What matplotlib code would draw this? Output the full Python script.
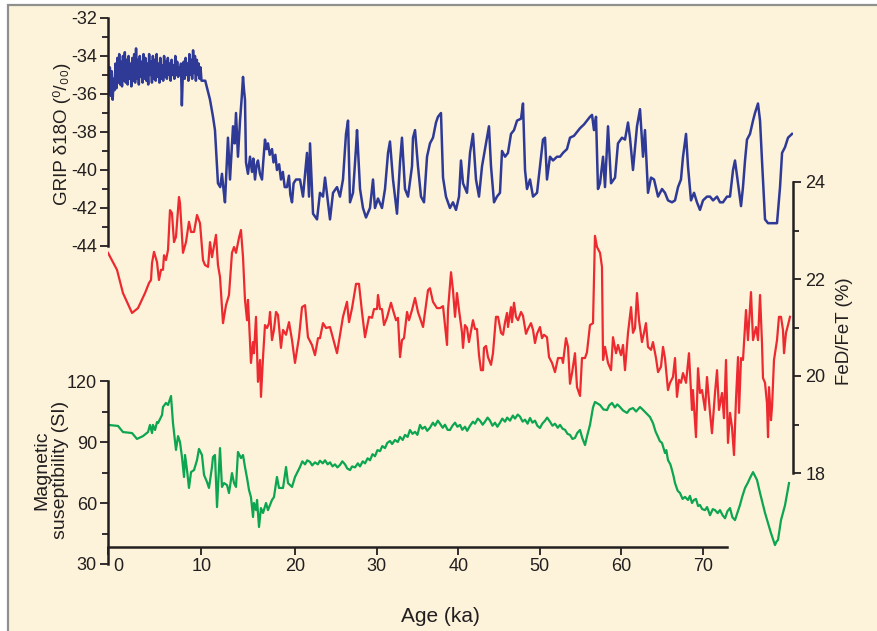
import numpy as np
import matplotlib
matplotlib.use("Agg")
import matplotlib.pyplot as plt
from matplotlib.patches import Rectangle
import matplotlib.transforms as mtransforms

# ---------------- data ----------------
# GRIP delta18O (permil) vs age (ka): Holocene part (dense) and glacial part
holo_age = [0.0, 0.1, 0.2, 0.3, 0.4, 0.5, 0.6, 0.7, 0.8, 0.9, 1.0, 1.1, 1.2, 1.3, 1.4, 1.5, 1.6, 1.7,
            1.8, 1.9, 2.0, 2.1, 2.2, 2.3, 2.4, 2.5, 2.6, 2.7, 2.8, 2.9, 3.0, 3.1, 3.2, 3.3, 3.4, 3.5,
            3.6, 3.7, 3.8, 3.9, 4.0, 4.1, 4.2, 4.3, 4.4, 4.5, 4.6, 4.7, 4.8, 4.9, 5.0, 5.1, 5.2, 5.3,
            5.4, 5.5, 5.6, 5.7, 5.8, 5.9, 6.0, 6.1, 6.2, 6.3, 6.4, 6.5, 6.6, 6.7, 6.8, 6.9, 7.0, 7.1,
            7.2, 7.3, 7.4, 7.5, 7.6, 7.7, 7.8, 7.9, 8.0, 8.1, 8.2, 8.3, 8.4, 8.5, 8.6, 8.7, 8.8, 8.9,
            9.0, 9.1, 9.2, 9.3, 9.4, 9.5, 9.6, 9.7, 9.8, 9.9, 10.0]
holo_d18o = [-34.3, -35.9, -34.6, -36.1, -34.8, -36.3, -35.2, -35.8, -34.4, -35.7,
             -34.1, -35.4, -33.9, -35.5, -34.3, -35.6, -34.0, -35.3, -33.8, -35.4,
             -34.2, -35.5, -34.0, -35.2, -34.4, -35.6, -34.1, -35.3, -33.9, -35.4,
             -33.6, -35.2, -34.2, -35.5, -34.0, -35.1, -34.3, -35.4, -33.9, -35.2,
             -34.1, -35.3, -34.4, -35.5, -33.9, -35.0, -34.3, -35.4, -34.0, -35.2,
             -34.2, -35.3, -33.9, -35.1, -34.4, -35.4, -34.1, -35.2, -34.5, -35.3,
             -34.0, -35.1, -34.3, -35.2, -34.1, -35.0, -34.4, -35.3, -34.2, -35.0,
             -34.5, -35.2, -34.0, -35.0, -34.3, -35.1, -34.6, -35.0, -34.4, -36.6,
             -35.0, -34.3, -35.2, -34.1, -35.0, -34.4, -35.3, -33.9, -35.0, -34.2,
             -35.2, -33.7, -34.9, -34.0, -35.3, -34.2, -35.0, -34.4, -35.2, -34.6,
             -35.3]
glac_age = [10.4, 10.91, 11.23, 11.44, 11.66, 11.76, 12.0, 12.19, 12.35, 12.51,
            12.83, 13.05, 13.37, 13.55, 13.69, 13.9, 14.12, 14.3, 14.44, 14.55, 14.65, 14.76, 14.97,
            15.19, 15.4, 15.55, 15.72, 15.9, 16.04, 16.25, 16.47, 16.6, 16.79, 16.95, 17.11, 17.3,
            17.54, 17.7, 17.9, 18.07, 18.3, 18.5, 18.7, 18.9, 19.14, 19.35, 19.5, 19.68, 19.85, 20.12,
            20.61, 20.98, 21.47, 21.72, 21.84, 22.21, 22.7, 23.06, 23.43, 23.68, 24.29, 24.66, 25.15,
            25.51, 25.88, 26.25, 26.5, 26.74, 27.11, 27.48, 27.6, 27.97, 28.33, 28.7, 29.19, 29.56,
            29.8, 30.17, 30.66, 31.03, 31.4, 31.64, 32.01, 32.5, 32.87, 33.11, 33.48, 33.85, 34.34,
            34.46, 34.71, 35.07, 35.44, 35.81, 36.18, 36.54, 36.91, 37.28, 37.52, 37.89, 38.14, 38.5,
            38.99, 39.36, 39.73, 40.1, 40.34, 40.59, 41.08, 41.45, 41.81, 42.18, 42.55, 42.92, 43.41,
            43.77, 44.02, 44.39, 44.75, 45.12, 45.37, 45.74, 46.1, 46.47, 46.84, 47.21, 47.7, 47.94,
            48.19, 48.43, 48.8, 49.17, 49.66, 50.02, 50.39, 50.64, 50.88, 51.25, 51.62, 52.11, 52.48,
            52.84, 53.33, 53.7, 54.19, 54.56, 54.93, 55.42, 55.78, 56.15, 56.4, 56.64, 56.89, 57.01,
            57.13, 57.38, 57.75, 57.99, 58.36, 58.73, 59.22, 59.58, 60.07, 60.44, 60.81, 61.05, 61.42,
            61.91, 62.28, 62.65, 62.89, 63.26, 63.63, 64.0, 64.49, 64.98, 65.34, 65.71, 66.2, 66.57,
            66.94, 67.3, 67.55, 67.92, 68.16, 68.53, 68.9, 69.26, 69.63, 70.0, 70.49, 70.86, 71.23,
            71.72, 72.08, 72.45, 72.94, 73.31, 73.68, 73.92, 74.29, 74.66, 74.9, 75.15, 75.39, 75.76,
            76.13, 76.37, 76.74, 76.99, 77.23, 77.6, 77.97, 78.58, 79.07, 79.44, 79.69, 80.05, 80.42,
            80.91]
glac_d18o = [-35.3, -36.3, -37.2, -37.9, -39.8,
             -40.7, -40.9, -40.2, -41.0, -41.7, -38.3, -40.5, -37.7, -38.6, -37.0, -39.3, -37.4, -36.2,
             -35.1, -35.8, -36.3, -39.6, -40.2, -39.3, -40.1, -39.4, -40.5, -39.7, -39.5, -40.2, -40.5,
             -39.6, -38.4, -38.9, -38.6, -39.2, -38.9, -39.6, -39.2, -40.0, -39.7, -40.5, -40.1, -40.9,
             -40.9, -40.3, -41.3, -41.7, -40.7, -40.5, -40.5, -41.4, -39.1, -41.4, -38.6, -42.3, -42.6,
             -41.2, -41.4, -40.4, -42.6, -41.2, -40.9, -41.4, -40.5, -38.1, -37.4, -41.7, -41.2, -38.8,
             -37.9, -41.0, -42.0, -42.5, -42.0, -40.5, -42.0, -41.5, -42.0, -41.0, -39.1, -38.5, -40.5,
             -42.3, -39.6, -38.3, -41.0, -41.4, -39.8, -38.3, -37.9, -39.8, -41.4, -41.7, -39.3, -38.6,
             -38.3, -37.5, -37.2, -37.0, -40.4, -41.4, -42.0, -41.7, -42.1, -41.4, -39.5, -40.7, -41.2,
             -39.1, -38.1, -40.5, -41.4, -39.8, -38.6, -37.7, -39.8, -41.7, -41.4, -41.2, -39.0, -39.3,
             -39.1, -38.1, -37.9, -37.4, -37.3, -36.5, -40.0, -41.0, -40.5, -41.4, -41.2, -39.8, -38.4,
             -38.3, -40.5, -39.3, -39.5, -39.3, -39.3, -39.1, -38.9, -38.3, -38.2, -38.0, -37.8, -37.6,
             -37.4, -37.2, -37.1, -37.9, -37.2, -39.1, -41.0, -40.7, -39.3, -40.9, -37.7, -40.7, -40.4,
             -38.6, -38.3, -38.4, -37.5, -38.3, -40.0, -37.7, -36.8, -39.3, -37.9, -41.2, -40.4, -40.5,
             -41.4, -41.0, -41.2, -41.6, -41.7, -41.6, -40.9, -40.5, -39.3, -38.1, -39.8, -41.6, -41.2,
             -41.7, -42.1, -41.6, -41.4, -41.4, -41.6, -41.4, -41.7, -41.7, -41.4, -41.4, -40.0, -39.5,
             -40.7, -41.9, -40.9, -39.5, -38.4, -38.1, -37.4, -37.0, -36.5, -37.4, -39.5, -42.6, -42.8,
             -42.8, -42.8, -40.9, -39.1, -38.8, -38.3, -38.1]

# FeD/FeT (%) vs age (ka)
fed_age = [0.0, 0.96, 1.6, 2.57, 3.21, 3.96, 4.39, 4.6, 4.71, 4.92, 5.24, 5.45, 5.67, 5.88, 5.99, 6.2,
           6.42, 6.63, 6.84, 7.06, 7.27, 7.59, 7.7, 8.02, 8.34, 8.66, 8.88, 9.2, 9.52, 9.84, 10.16,
           10.37, 10.7, 10.91, 11.12, 11.55, 11.76, 11.98, 12.3, 12.62, 12.94, 13.26, 13.48, 13.69,
           14.01, 14.22, 14.44, 14.65, 14.87, 14.97, 15.08, 15.29, 15.51, 15.61, 15.83, 16.04, 16.26,
           16.36, 16.58, 16.79, 17.01, 17.22, 17.33, 17.54, 17.75, 17.97, 18.18, 18.5, 18.72, 19.04,
           19.36, 19.68, 20.0, 20.49, 20.86, 21.23, 21.59, 22.08, 22.45, 22.82, 23.06, 23.43, 23.8,
           24.29, 25.15, 25.88, 26.37, 26.62, 26.99, 27.48, 27.84, 28.21, 28.58, 29.07, 29.44, 29.68,
           30.05, 30.17, 30.42, 30.66, 30.91, 31.27, 31.76, 32.01, 32.38, 32.62, 32.87, 33.11, 33.36,
           33.73, 33.97, 34.34, 34.71, 35.07, 35.69, 36.3, 36.54, 36.91, 37.4, 37.77, 38.14, 38.38,
           38.63, 38.75, 39.12, 39.36, 39.61, 39.85, 40.1, 40.47, 40.59, 40.83, 41.08, 41.32, 41.81,
           42.06, 42.3, 42.55, 42.79, 43.04, 43.16, 43.41, 43.65, 44.02, 44.26, 44.63, 44.88, 45.25,
           45.49, 45.74, 45.98, 46.1, 46.47, 46.59, 46.84, 47.08, 47.33, 47.7, 47.94, 48.31, 48.55,
           48.92, 49.17, 49.41, 49.66, 50.02, 50.27, 50.51, 50.88, 51.13, 51.5, 51.86, 52.23, 52.72,
           52.84, 53.21, 53.46, 53.7, 53.95, 54.31, 54.56, 54.93, 55.17, 55.54, 55.78, 56.15, 56.52,
           56.76, 57.01, 57.38, 57.62, 57.75, 57.99, 58.36, 58.73, 58.97, 59.34, 59.58, 59.95, 60.2,
           60.44, 60.81, 61.18, 61.42, 61.67, 61.91, 62.16, 62.52, 62.77, 63.01, 63.26, 63.63, 63.87,
           64.24, 64.49, 64.85, 65.1, 65.34, 65.71, 65.96, 66.32, 66.57, 66.81, 67.06, 67.3, 67.55,
           67.92, 68.16, 68.28, 68.65, 68.77, 69.14, 69.39, 69.63, 69.88, 70.25, 70.49, 70.86, 71.1,
           71.47, 71.72, 71.96, 72.33, 72.57, 72.82, 73.06, 73.31, 73.55, 73.8, 74.04, 74.29, 74.41,
           74.66, 74.9, 75.27, 75.51, 75.88, 76.13, 76.5, 76.74, 76.99, 77.23, 77.35, 77.6, 77.84,
           77.97, 78.09, 78.33, 78.46, 78.7, 79.07, 79.31, 79.56, 79.8, 79.93, 80.17, 80.42, 80.66]
fed_pct = [22.54, 22.19, 21.71, 21.30, 21.40, 21.71, 21.92, 21.98, 22.33, 22.56, 22.35, 21.98, 22.19,
           22.19, 22.49, 22.39, 22.60, 23.42, 23.36, 22.76, 22.87, 23.69, 23.57, 22.54, 22.76, 23.18,
           22.97, 22.97, 23.32, 23.15, 22.39, 22.29, 22.25, 22.76, 22.45, 22.91, 22.29, 22.04, 21.09,
           21.46, 21.67, 22.54, 22.66, 22.54, 22.85, 23.01, 22.45, 21.57, 21.15, 21.57, 21.15, 20.27,
           20.70, 20.47, 21.22, 19.88, 20.33, 19.57, 20.39, 21.05, 20.99, 21.09, 21.32, 20.74, 20.95,
           21.32, 21.26, 20.58, 20.95, 20.85, 21.11, 20.74, 20.27, 20.80, 21.42, 21.46, 20.80, 20.64,
           20.43, 20.78, 20.78, 21.09, 20.99, 21.01, 20.47, 21.22, 21.53, 21.11, 21.40, 21.90, 21.90,
           21.32, 20.80, 21.22, 21.20, 21.38, 21.38, 21.67, 21.38, 21.38, 21.05, 21.20, 21.51, 21.36,
           21.15, 21.20, 20.39, 20.74, 20.78, 21.32, 21.15, 21.36, 21.61, 21.32, 21.01, 21.77, 21.81,
           21.53, 21.40, 21.40, 21.44, 21.05, 20.64, 21.36, 22.14, 21.77, 21.22, 21.71, 21.36, 20.89,
           20.58, 21.05, 20.99, 20.70, 21.15, 20.97, 20.97, 20.43, 20.12, 20.12, 20.58, 20.62, 20.39,
           20.23, 20.47, 21.22, 21.22, 20.89, 20.85, 21.11, 21.30, 21.01, 21.42, 21.11, 21.51, 21.22,
           21.15, 21.32, 21.24, 20.87, 20.97, 21.09, 20.95, 20.68, 20.87, 21.01, 20.78, 20.85, 20.80,
           20.39, 20.27, 20.08, 20.37, 20.37, 20.27, 20.78, 20.60, 19.84, 20.06, 20.47, 19.77, 19.59,
           20.37, 20.37, 20.49, 21.05, 21.09, 22.89, 22.66, 22.54, 22.25, 20.33, 20.60, 20.27, 20.12,
           20.80, 20.47, 20.64, 20.43, 20.64, 20.12, 20.89, 21.42, 20.89, 20.99, 21.71, 21.15, 20.70,
           20.89, 21.09, 20.60, 20.54, 20.70, 20.37, 20.08, 20.19, 20.60, 20.37, 19.71, 19.86, 19.98,
           20.37, 19.57, 19.92, 19.86, 20.06, 19.86, 20.27, 20.47, 19.30, 19.71, 18.74, 20.16, 19.65,
           19.71, 19.30, 19.98, 19.24, 18.82, 19.65, 20.12, 19.30, 19.65, 19.13, 20.33, 18.62, 19.24,
           18.95, 18.37, 19.51, 20.39, 19.24, 20.37, 20.33, 21.36, 20.74, 21.73, 20.74, 21.01, 20.74,
           21.67, 20.68, 19.96, 19.86, 19.44, 18.74, 19.77, 19.09, 19.36, 20.33, 20.74, 21.22, 21.22,
           20.95, 20.47, 20.89, 21.05, 21.22]

# Magnetic susceptibility (SI) vs age (ka)
ms_age = [0.0, 1.07, 1.6, 2.57, 3.1, 3.74, 4.28, 4.49, 4.71, 4.81, 5.03, 5.24, 5.35, 5.78, 5.88, 6.2,
          6.42, 6.74, 6.95, 7.06, 7.27, 7.49, 7.7, 7.91, 8.13, 8.24, 8.45, 8.66, 8.88, 9.2, 9.52, 9.73,
          10.05, 10.27, 10.59, 10.8, 11.12, 11.23, 11.44, 11.66, 11.98, 12.19, 12.41, 12.73, 12.94,
          13.26, 13.48, 13.69, 13.9, 14.22, 14.44, 14.65, 14.87, 15.08, 15.29, 15.51, 15.61, 15.83,
          15.94, 16.15, 16.36, 16.58, 16.9, 17.11, 17.54, 17.75, 18.07, 18.29, 18.72, 19.04, 19.25,
          19.68, 20.0, 20.61, 20.9, 21.23, 21.5, 21.84, 22.1, 22.45, 22.8, 23.06, 23.4, 23.68, 24.0,
          24.29, 24.6, 24.9, 25.2, 25.51, 25.8, 26.13, 26.4, 26.74, 27.0, 27.35, 27.7, 27.97, 28.3,
          28.58, 28.9, 29.19, 29.5, 29.8, 30.1, 30.42, 30.7, 31.03, 31.3, 31.64, 31.9, 32.25, 32.6,
          32.87, 33.2, 33.48, 33.8, 34.09, 34.4, 34.71, 35.0, 35.32, 35.6, 35.93, 36.2, 36.54, 36.9,
          37.16, 37.5, 37.77, 38.1, 38.38, 38.7, 38.99, 39.3, 39.61, 39.9, 40.22, 40.5, 40.83, 41.1,
          41.45, 41.8, 42.06, 42.4, 42.67, 43.0, 43.28, 43.6, 43.9, 44.2, 44.51, 44.8, 45.12, 45.4,
          45.74, 46.0, 46.35, 46.7, 46.96, 47.3, 47.57, 47.9, 48.19, 48.5, 48.8, 49.1, 49.41, 49.7,
          50.02, 50.3, 50.64, 50.9, 51.25, 51.55, 51.86, 52.2, 52.48, 52.8, 53.09, 53.4, 53.7, 54.0,
          54.31, 54.6, 54.93, 55.2, 55.54, 55.8, 56.15, 56.52, 56.76, 57.38, 57.8, 58.24, 58.5,
          58.85, 59.2, 59.5, 59.83, 60.2, 60.69, 61.0, 61.42, 61.8, 62.28, 62.6, 62.89, 63.2, 63.5,
          63.87, 64.2, 64.49, 64.7, 64.98, 65.34, 65.5, 65.71, 66.0, 66.2, 66.4, 66.57, 66.9, 67.18,
          67.5, 67.79, 68.16, 68.4, 68.65, 68.9, 69.14, 69.4, 69.63, 69.9, 70.25, 70.5, 70.86, 71.2,
          71.47, 71.8, 72.08, 72.4, 72.7, 73.0, 73.31, 73.6, 73.92, 74.2, 74.53, 74.8, 75.15, 75.5,
          75.76, 76.13, 76.4, 76.62, 76.99, 77.3, 77.6, 77.97, 78.33, 78.6, 78.82, 79.0, 79.19,
          79.56, 80.05, 80.54]
ms_si = [98.4, 97.9, 94.9, 94.4, 91.5, 92.9, 94.9, 98.4, 94.4, 98.4, 95.9, 99.8, 99.3, 103.3, 107.2,
         109.2, 108.2, 112.6, 99.3, 94.9, 86.1, 92.9, 90.0, 82.6, 72.8, 83.6, 76.2, 67.4, 75.2, 76.2,
         81.1, 86.6, 83.6, 73.8, 70.3, 67.4, 77.7, 82.6, 83.6, 58.0, 87.0, 67.9, 69.8, 68.8, 64.9, 74.7,
         69.8, 67.9, 85.1, 82.1, 83.6, 77.7, 72.3, 66.4, 62.9, 53.1, 60.0, 56.5, 61.5, 48.2, 57.5,
         55.1, 60.0, 56.5, 61.5, 62.9, 72.8, 67.4, 67.4, 77.7, 69.8, 67.9, 72.8,
         77.7, 80.5, 79.0, 81.0, 80.2, 78.5, 80.0, 79.0, 80.8, 79.5, 81.0, 79.0, 80.0, 78.0, 79.0,
         77.5, 78.7, 80.5, 79.0, 77.0, 76.2, 78.0, 77.5, 79.5, 78.0, 80.5, 79.5, 82.0, 81.0, 84.0,
         83.0, 86.0, 85.5, 88.0, 87.0, 89.5, 90.5, 89.0, 91.0, 90.0, 92.5, 91.0, 93.5, 92.5, 95.9,
         94.0, 95.0, 93.5, 98.4, 96.5, 97.5, 95.5, 97.0, 99.5, 98.0, 100.5, 99.0, 97.0, 98.5, 96.0,
         95.9, 98.0, 99.5, 97.5, 98.4, 96.0, 97.5, 95.5, 98.0, 100.0, 99.0, 101.5, 100.5, 98.5,
         100.0, 102.0, 100.5, 98.0, 99.5, 97.5, 99.5, 101.5, 100.0, 102.0, 100.5, 103.0, 101.5,
         103.5, 102.5, 100.0, 101.0, 99.0, 101.8, 99.5, 100.5, 98.0, 96.9, 99.0, 100.5, 102.0,
         100.0, 98.0, 99.0, 97.0, 98.4, 96.5, 96.0, 94.0, 93.5, 91.5, 92.0, 94.5, 95.9, 92.0, 88.5,
         93.0, 98.4, 107.0, 109.7, 108.2, 106.0, 105.7, 108.0, 109.2, 107.0, 108.5, 107.2, 105.5,
         104.3, 106.0, 106.7, 105.0, 107.2, 106.0, 104.8, 103.5, 102.3, 99.3, 95.0, 92.5, 90.5,
         89.5, 84.6, 86.0, 81.1, 79.0, 76.2, 73.0, 69.8, 66.0, 64.9, 62.0, 63.0, 61.5, 63.5, 60.0,
         61.5, 62.0, 58.5, 59.0, 57.0, 56.5, 58.0, 54.0, 57.0, 56.5, 55.0, 56.5, 54.0, 52.5, 56.0,
         57.5, 53.0, 51.6, 55.0, 59.0, 63.0, 67.4, 70.0, 72.3, 75.2, 73.0, 71.3, 64.9, 60.0, 55.1,
         50.1, 45.2, 42.0, 39.3, 41.0, 41.8, 51.6, 58.9, 69.8]

age_ticks = [0, 10, 20, 30, 40, 50, 60, 70]
grip_ticks = [-44, -42, -40, -38, -36, -34, -32]
fed_ticks = [18, 20, 22, 24]
ms_ticks = [30, 60, 90, 120]

# ---------------- styling ----------------
W, H = 878, 631
BG = "#fdf3da"
INK = "#231f20"
BLUE = "#2e3a96"
RED = "#ec2a30"
GREEN = "#0ca550"
FONT = ["Liberation Sans", "DejaVu Sans"]

plt.rcParams["font.family"] = FONT
plt.rcParams["axes.unicode_minus"] = False

fig = plt.figure(figsize=(W / 100, H / 100), dpi=100)
fig.patch.set_facecolor("white")
fig.patches.append(Rectangle((8 / W, -0.05), 1.2, 1 - 5 / H + 0.05, transform=fig.transFigure,
                             facecolor=BG, edgecolor="#8f8f8f", lw=1.6, zorder=-10))


def box(l, r, t, b):
    return [l / W, (H - b) / H, (r - l) / W, (b - t) / H]


# age axis: 0-20 ka drawn wider than 20-80 ka, as in the original figure
KX = [-200.0, 0.0, 20.0, 400.0]
KP = [-1870.0, 0.0, 187.0, 187.0 + 380 * 8.16]


def fwd(x):
    return np.interp(x, KX, KP)


def inv(p):
    return np.interp(p, KP, KX)


XMAX = float(inv(685.0))

L, R, T, B = 108, 793, 18, 564
axB = fig.add_axes(box(L, R, T, B))
axR = fig.add_axes(box(L, R, T, B))
axG = fig.add_axes(box(L, R, T, B))
axX = fig.add_axes(box(L, R, T, 547))

for ax in (axB, axR, axG, axX):
    ax.set_facecolor("none")
    ax.set_xscale("function", functions=(fwd, inv))
    ax.set_xlim(0, XMAX)
    for s in ax.spines.values():
        s.set_visible(False)
        s.set_linewidth(1.8)
        s.set_color(INK)
    ax.tick_params(colors=INK, labelcolor=INK, labelsize=13, width=1.3)

for ax in (axB, axR, axG):
    ax.set_xticks([])
    ax.set_xticks([], minor=True)

# blue (GRIP)
axB.plot(holo_age + glac_age, holo_d18o + glac_d18o, color=BLUE, lw=1.8, solid_joinstyle="round")
axB.set_ylim(-32 - (B - T) / 19.0, -32)
axB.spines["left"].set_visible(True)
axB.spines["left"].set_bounds(-44, -32)
axB.set_yticks(grip_ticks)
axB.set_yticklabels([str(v) for v in grip_ticks])
axB.set_yticks([-43, -41, -39, -37, -35, -33], minor=True)
axB.tick_params(axis="y", which="major", length=6, pad=2)
axB.tick_params(axis="y", which="minor", length=4, width=1.3, colors=INK)

# red (FeD/FeT)
axR.plot(fed_age, fed_pct, color=RED, lw=1.6, solid_joinstyle="round")
pxr = 291 / 6.0
axR.set_ylim(18 - (B - 473) / pxr, 24 + (182 - T) / pxr)
axR.spines["right"].set_visible(True)
axR.spines["right"].set_bounds(18, 24)
axR.yaxis.tick_right()
axR.set_yticks(fed_ticks)
axR.set_yticks([19, 21, 23], minor=True)
axR.tick_params(axis="y", which="major", length=6, pad=3)
axR.tick_params(axis="y", which="minor", length=4, width=1.3, colors=INK)

# green (magnetic susceptibility)
axG.plot(ms_age, ms_si, color=GREEN, lw=1.6, solid_joinstyle="round")
pxg = 183 / 90.0
axG.set_ylim(30, 120 + (381 - T) / pxg)
axG.spines["left"].set_visible(True)
axG.spines["left"].set_bounds(30, 120)
axG.set_yticks(ms_ticks)
axG.set_yticks([45, 75, 105], minor=True)
axG.tick_params(axis="y", which="major", length=6, pad=2)
axG.tick_params(axis="y", which="minor", length=4, width=1.3, colors=INK)

# age axis
axX.set_yticks([])
axX.spines["bottom"].set_visible(True)
axX.spines["bottom"].set_bounds(0, 72.94)
axX.set_xticks(age_ticks)
axX.set_xticklabels([str(v) for v in age_ticks])
axX.set_xticks([], minor=True)
axX.tick_params(axis="x", which="major", length=6, pad=2)
t0 = axX.xaxis.get_major_ticks()[0]
t0.label1.set_transform(t0.label1.get_transform() +
                        mtransforms.ScaledTranslation(0.10, 0, fig.dpi_scale_trans))

# axis titles
fig.text(62 / W, 1 - 134 / H, "GRIP δ18O (⁰/₀₀)", rotation=90, ha="center", va="center",
         fontsize=13.5, color=INK)
fig.text(51 / W, 1 - 470 / H, "Magnetic\nsuseptibility (SI)", rotation=90, ha="center",
         va="center", multialignment="center", fontsize=14, color=INK, linespacing=1.1)
fig.text(845 / W, 1 - 331 / H, "FeD/FeT (%)", rotation=90, ha="center", va="center",
         fontsize=13.5, color=INK)
fig.text(440 / W, 1 - 616 / H, "Age (ka)", ha="center", va="center", fontsize=15, color=INK)

fig.savefig("out.png", dpi=100, facecolor=fig.get_facecolor())
